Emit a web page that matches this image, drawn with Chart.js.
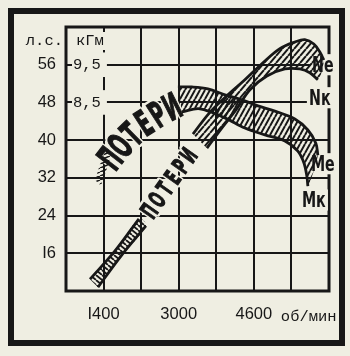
<!DOCTYPE html>
<html>
<head>
<meta charset="utf-8">
<script src="https://cdn.jsdelivr.net/npm/chart.js@4.4.1/dist/chart.umd.min.js"></script>
<style>
  html, body { margin: 0; padding: 0; background: #efeee2; }
</style>
</head>
<body>
<canvas id="chart" width="350" height="356"></canvas>
<script>
// об/мин axis
const rpmMin = 600, rpmMax = 6200, rpmStep = 800;
const rpmTickValues = [1400, 3000, 4600];
const rpmTickText = ['I400', '3000', '4600'];

// л.с. axis
const hpMin = 8, hpMax = 64, hpStep = 8;
const hpTickValues = [56, 48, 40, 32, 24, 16];
const hpTickText = ['56', '48', '40', '32', '24', 'I6'];

// кГм axis
const kgmMin = 3.5, kgmMax = 10.5;
const kgmTickValues = [9.5, 8.5];
const kgmTickText = ['9,5', '8,5'];

// power band (л.с.), upper and lower edge, [rpm, value]
const powerTop = [[3303, 41.3], [3664, 45.9], [4047, 49.6], [4409, 52.8], [4771, 56.2], [5154, 59.4],
                  [5473, 60.8], [5686, 61.3], [5877, 60.4], [6005, 58.7], [6090, 57.0]];
const powerBottom = [[3600, 38.3], [3920, 42.6], [4218, 46.4], [4516, 50.7], [4877, 53.6], [5260, 55.1],
                     [5580, 55.1], [5792, 54.3], [5963, 52.8]];
// thin part of the power band at low rpm
const powerLowTop = [[1111, 10.5], [1643, 16.5], [2153, 23.3]];
const powerLowBottom = [[1281, 8.8], [1770, 15.4], [2302, 21.8]];

// torque band (кГм)
const torqueTop = [[2983, 8.91], [3281, 8.91], [3622, 8.86], [3984, 8.70], [4345, 8.57], [4686, 8.41],
                   [5048, 8.27], [5473, 8.06], [5750, 7.77], [5920, 7.42], [5963, 7.10]];
const torqueBottom = [[3068, 8.25], [3452, 8.33], [3984, 8.09], [4409, 7.82], [4835, 7.64], [5260, 7.48],
                      [5537, 7.21], [5665, 6.90], [5728, 6.55], [5750, 6.28]];
const torqueLowTop = [[1217, 6.44], [1451, 7.24]];
const torqueLowBottom = [[1345, 6.29], [1558, 7.16]];

// "ПОТЕРИ" lettering runs along these paths
const lossText = 'ПОТЕРИ';
const torqueLossPath = [[1451, 6.82], [1792, 7.37], [2217, 7.88], [2643, 8.22], [3026, 8.46]]; // кГм
const powerLossPath = [[2302, 23.7], [2792, 30.7], [3303, 37.9]]; // л.с.

// curve names at the right edge (л.с.)
const curveNames = ['Ne', 'Nк', 'Me', 'Mк'];
const curveNameAt = [[6069, 56.0], [6005, 49.0], [6069, 35.0], [5877, 27.3]];

const paper = '#efeee2';
const ink = '#171717';

const canvas = document.getElementById('chart');
const ctx = canvas.getContext('2d');

function stripes(w, h, lw, flip) {
    const c = document.createElement('canvas');
    c.width = w;
    c.height = h;
    const g = c.getContext('2d');
    g.strokeStyle = ink;
    g.lineWidth = lw;
    if (flip) { g.translate(w, 0); g.scale(-1, 1); }
    g.beginPath();
    for (let k = -1; k <= 1; k++) {
        g.moveTo(k * w, h);
        g.lineTo(k * w + w, 0);
    }
    g.stroke();
    return ctx.createPattern(c, 'repeat');
}

const toXY = arr => arr.map(p => ({ x: p[0], y: p[1] }));

function edge(points, axis) {
    return { data: toXY(points), yAxisID: axis, fill: false, borderColor: ink, borderWidth: 2.8,
             pointRadius: 0, tension: 0.35 };
}

function band(top, bottom, axis, pattern) {
    const outline = top.concat(bottom.slice().reverse());
    return { data: toXY(outline), yAxisID: axis, fill: 'shape', backgroundColor: pattern,
             borderWidth: 0, borderColor: 'rgba(0,0,0,0)', pointRadius: 0, tension: 0.35 };
}

function lettering(c, text, pts, size, squeeze) {
    const segs = [];
    let total = 0;
    for (let i = 1; i < pts.length; i++) {
        const dx = pts[i][0] - pts[i - 1][0], dy = pts[i][1] - pts[i - 1][1];
        const len = Math.hypot(dx, dy);
        segs.push({ p: pts[i - 1], dx, dy, len, start: total });
        total += len;
    }
    const step = total / text.length;
    const spots = [];
    for (let k = 0; k < text.length; k++) {
        const d = (k + 0.5) * step;
        const s = segs.find(sg => d <= sg.start + sg.len) || segs[segs.length - 1];
        const t = (d - s.start) / s.len;
        spots.push({ x: s.p[0] + s.dx * t, y: s.p[1] + s.dy * t, a: Math.atan2(s.dy, s.dx), ch: text[k] });
    }
    c.font = `bold ${size}px "DejaVu Sans Condensed"`;
    c.textAlign = 'center';
    c.textBaseline = 'middle';
    [true, false].forEach(halo => {
        spots.forEach(sp => {
            c.save();
            c.translate(sp.x, sp.y);
            c.rotate(sp.a);
            c.scale(squeeze, 1);
            if (halo) {
                c.strokeStyle = paper;
                c.lineWidth = 6;
                c.lineJoin = 'round';
                c.strokeText(sp.ch, 0, size * 0.06);
            } else {
                c.fillStyle = ink;
                c.strokeStyle = ink;
                c.lineWidth = 1.2;
                c.fillText(sp.ch, 0, size * 0.06);
                c.strokeText(sp.ch, 0, size * 0.06);
            }
            c.restore();
        });
    });
}

function caption(c, text, px, py, size, squeeze) {
    c.save();
    c.translate(px, py);
    c.scale(squeeze, 1);
    c.font = `bold ${size}px "DejaVu Sans Condensed"`;
    c.textAlign = 'center';
    c.textBaseline = 'middle';
    const w = c.measureText(text).width;
    c.fillStyle = paper;
    c.fillRect(-w / 2 - 3, -size * 0.48, w + 6, size * 0.96);
    c.fillStyle = ink;
    c.fillText(text, 0, size * 0.05);
    c.restore();
}

const sketch = {
    id: 'sketch',
    beforeDraw(chart) {
        const c = chart.ctx;
        c.save();
        c.fillStyle = paper;
        c.fillRect(0, 0, chart.width, chart.height);
        c.strokeStyle = ink;
        c.lineWidth = 6;
        c.strokeRect(11, 11, 331, 332);
        c.restore();
    },
    beforeDatasetsDraw(chart) {
        const c = chart.ctx;
        const a = chart.chartArea;
        const { x, y, y1 } = chart.scales;
        c.save();
        c.strokeStyle = ink;
        c.lineWidth = 3;
        c.strokeRect(a.left, a.top, a.right - a.left, a.bottom - a.top);

        lettering(c, lossText, torqueLossPath.map(p => [x.getPixelForValue(p[0]), y1.getPixelForValue(p[1])]), 36, 0.58);
        lettering(c, lossText, powerLossPath.map(p => [x.getPixelForValue(p[0]), y.getPixelForValue(p[1])]), 24, 0.6);

        curveNames.forEach((name, i) => {
            caption(c, name, x.getPixelForValue(curveNameAt[i][0]), y.getPixelForValue(curveNameAt[i][1]), 22, 0.72);
        });

        c.fillStyle = ink;
        c.font = '15.5px "Liberation Mono"';
        c.textBaseline = 'middle';
        c.textAlign = 'right';
        c.fillText('л.с.', a.left - 3, a.top + 14);
        c.textAlign = 'left';
        c.fillStyle = paper;
        c.fillRect(a.left + 6, a.top + 5, 36, 18);
        c.fillStyle = ink;
        c.fillText('кГм', a.left + 10, a.top + 14);
        c.fillText('об/мин', x.getPixelForValue(rpmTickValues[2]) + 27, a.bottom + 26);
        c.restore();
    }
};

const nPattern = stripes(6, 7, 2, false);
const mPattern = stripes(5, 9, 2, false);
const rungPattern = stripes(6, 5, 1.8, true);
const dashPattern = stripes(10, 4, 1.6, false);

new Chart(ctx, {
    type: 'line',
    data: {
        datasets: [
            edge(powerTop, 'y'),
            edge(powerBottom, 'y'),
            edge(powerLowTop, 'y'),
            edge(powerLowBottom, 'y'),
            edge(torqueTop, 'y1'),
            edge(torqueBottom, 'y1'),
            band(powerTop, powerBottom, 'y', nPattern),
            band(powerLowTop, powerLowBottom, 'y', rungPattern),
            band(torqueTop, torqueBottom, 'y1', mPattern),
            band(torqueLowTop, torqueLowBottom, 'y1', dashPattern)
        ]
    },
    options: {
        responsive: false,
        animation: false,
        devicePixelRatio: 1,
        layout: { padding: { top: 27, right: 21, left: 0, bottom: 0 } },
        plugins: { legend: { display: false }, tooltip: { enabled: false } },
        scales: {
            x: {
                type: 'linear',
                min: rpmMin,
                max: rpmMax,
                afterFit: s => { s.height = 65; },
                border: { display: false },
                grid: { color: ink, lineWidth: 2, drawTicks: false },
                ticks: {
                    stepSize: rpmStep,
                    padding: 14,
                    color: ink,
                    maxRotation: 0,
                    autoSkip: false,
                    font: { family: 'Liberation Sans', size: 16.5 },
                    callback: v => {
                        const i = rpmTickValues.indexOf(v);
                        return i < 0 ? '' : rpmTickText[i];
                    }
                }
            },
            y: {
                position: 'left',
                weight: 1,
                min: hpMin,
                max: hpMax,
                afterFit: s => { s.width = 66; },
                border: { display: false },
                grid: { color: ink, lineWidth: 2, drawTicks: false },
                ticks: {
                    stepSize: hpStep,
                    padding: 10,
                    color: ink,
                    autoSkip: false,
                    font: { family: 'Liberation Sans', size: 16.5 },
                    callback: v => {
                        const i = hpTickValues.indexOf(v);
                        return i < 0 ? '' : hpTickText[i];
                    }
                }
            },
            y1: {
                position: 'left',
                weight: 0,
                min: kgmMin,
                max: kgmMax,
                afterFit: s => { s.width = 0; },
                afterBuildTicks: s => { s.ticks = kgmTickValues.map(v => ({ value: v })); },
                border: { display: false },
                grid: { display: false, drawTicks: false },
                ticks: {
                    mirror: true,
                    padding: 7,
                    z: 1,
                    color: ink,
                    autoSkip: false,
                    showLabelBackdrop: true,
                    backdropColor: paper,
                    backdropPadding: { left: 1, right: 6, top: 3, bottom: 3 },
                    font: { family: 'Liberation Mono', size: 15.5 },
                    callback: v => {
                        const i = kgmTickValues.indexOf(v);
                        return i < 0 ? '' : kgmTickText[i];
                    }
                }
            }
        }
    },
    plugins: [sketch]
});
</script>
</body>
</html>
